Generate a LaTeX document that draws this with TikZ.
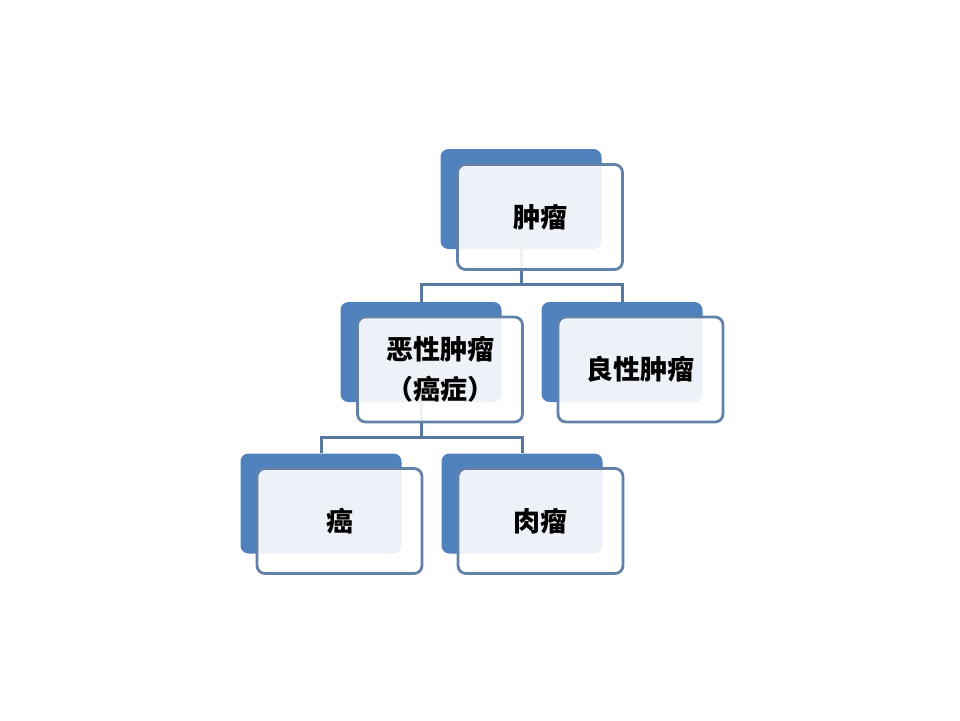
\documentclass[tikz,border=0pt]{standalone}
\usepackage{fontspec}
\newfontfamily\cjk{Noto Sans CJK SC}
\definecolor{backblue}{HTML}{4F81BD}
\definecolor{edgeblue}{HTML}{6281A8}
\definecolor{linkblue}{HTML}{5878A0}
\begin{document}
\begin{tikzpicture}[x=1pt,y=-1pt,
  backbox/.style={draw=none,fill=backblue,rounded corners=8pt,inner sep=0pt,minimum width=161pt,minimum height=100pt},
  frontbox/.style={draw=edgeblue,line width=2.8pt,fill=white,fill opacity=0.9,text opacity=1,rounded corners=8pt,inner sep=0pt,minimum width=165pt,minimum height=105pt,align=center,font=\cjk\bfseries\fontsize{27pt}{40pt}\selectfont},
  link/.style={draw=linkblue,line width=3pt}]
\useasboundingbox (0,0) rectangle (960,720);
% back boxes
\node[backbox] (tb) at (521,199) {};
\node[backbox] (lb) at (421,352) {};
\node[backbox] (rb) at (622,352) {};
\node[backbox] (blb) at (321,503.5) {};
\node[backbox] (brb) at (522,503.5) {};
% connectors
\coordinate (j1) at (521,284);
\coordinate (j2) at (421,437);
\draw[link] (tb.center) -- (j1);
\draw[link] (lb.north) |- (j1) -| (rb.north);
\draw[link] (lb.center) -- (j2);
\draw[link] (blb.north) |- (j2) -| (brb.north);
% front boxes
\node[frontbox] (tf) at (540,217) {肿瘤};
\node[frontbox] (lf) at (440,369.5) {恶性肿瘤\\（癌症）};
\node[frontbox] (rf) at (640.5,369.5) {良性肿瘤};
\node[frontbox] (blf) at (339.5,521) {癌};
\node[frontbox] (brf) at (540.5,521) {肉瘤};
\end{tikzpicture}
\end{document}
